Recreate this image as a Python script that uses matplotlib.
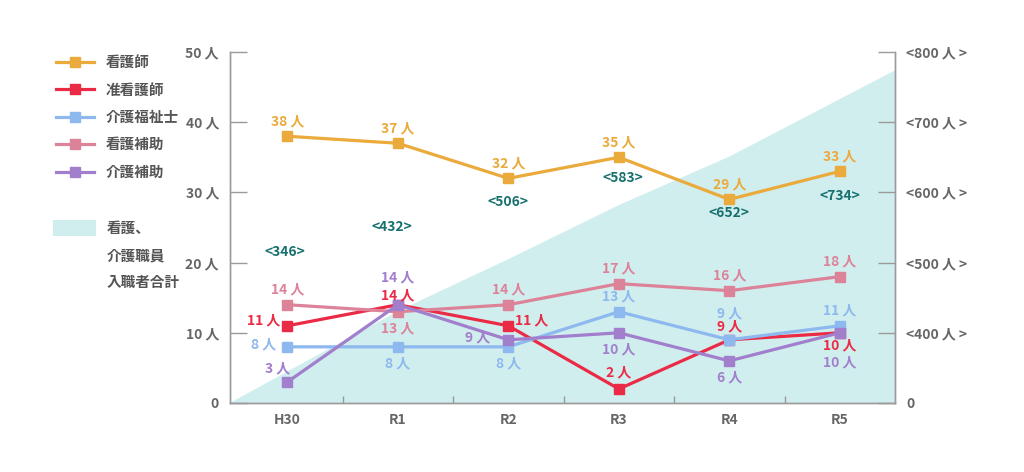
import numpy as np
import matplotlib.pyplot as plt
from matplotlib.lines import Line2D
from matplotlib.patches import Rectangle

plt.rcParams['font.family'] = ['Noto Sans CJK JP', 'DejaVu Sans']

years = ["H30", "R1", "R2", "R3", "R4", "R5"]
nurse = [38, 37, 32, 35, 29, 33]
assoc_nurse = [11, 14, 11, 2, 9, 10]
care_worker = [8, 8, 8, 13, 9, 11]
nurse_aide = [14, 13, 14, 17, 16, 18]
care_aide = [3, 14, 9, 10, 6, 10]
total_hires = [346, 432, 506, 583, 652, 734]

left_ticks = [0, 10, 20, 30, 40, 50]
left_labels = ["0", "10 人", "20 人", "30 人", "40 人", "50 人"]
right_ticks = [300, 400, 500, 600, 700, 800]
right_labels = ["0", "<400 人 >", "<500 人 >", "<600 人 >", "<700 人 >", "<800 人 >"]

series = [
    ("看護師", nurse, "#EAAA3C"),
    ("准看護師", assoc_nurse, "#EB2A45"),
    ("介護福祉士", care_worker, "#8DB9EE"),
    ("看護補助", nurse_aide, "#DC8299"),
    ("介護補助", care_aide, "#A17FCC"),
]

# label offsets (points) per series, per year
offsets = [
    [(0, 11), (0, 11), (0, 11), (0, 11), (0, 11), (0, 11)],
    [(-17, 4), (0, 7), (17, 4), (0, 12), (0, 10), (0, -9)],
    [(-17, 2), (0, -12), (0, -12), (0, 11), (0, 19), (0, 11)],
    [(0, 11), (0, -12), (0, 11), (0, 11), (0, 11), (0, 11)],
    [(-7, 10), (0, 20), (-22, 2), (0, -12), (0, -12), (0, -21)],
]
total_offsets = [(-2, 0), (-4, 0), (0, 0), (3, 0), (0, 0), (0, 0)]
total_ylevels = [21.5, 25, 28.6, 32, 27, 29.5]

fig = plt.figure(figsize=(10.24, 4.72), dpi=100)
ax = fig.add_axes([230 / 1024, 1 - 403 / 472, 665 / 1024, 351 / 472])
ax2 = ax.twinx()

x = np.arange(len(years))
xlim = (-0.52, 5.5)

# total area on right axis, extended linearly to the plot edges
xe = np.concatenate([[xlim[0]], x, [xlim[1]]])
t = np.array(total_hires, dtype=float)
t_left = t[0] + (t[0] - t[1]) * (x[0] - xlim[0])
t_right = t[-1] + (t[-1] - t[-2]) * (xlim[1] - x[-1])
te = np.concatenate([[t_left], t, [t_right]])
ax2.fill_between(xe, 300, te, color="#D1EEEF", lw=0)
ax2.set_ylim(300, 800)
ax2.set_yticks(right_ticks)
ax2.set_yticklabels(right_labels)

ax.set_zorder(ax2.zorder + 1)
ax.patch.set_visible(False)

for (name, vals, col), offs in zip(series, offsets):
    ax.plot(x, vals, color=col, lw=2.3, marker="s", ms=6.5, label=name,
            clip_on=False)
    for xi, v, (dx, dy) in zip(x, vals, offs):
        ax.annotate(f"{v} 人", (xi, v), xytext=(dx, dy), textcoords="offset points",
                    ha="center", va="center", color=col, fontsize=10,
                    fontweight="bold")

for xi, v, yl, (dx, dy) in zip(x, total_hires, total_ylevels, total_offsets):
    ax.annotate(f"<{v}>", (xi, yl), xytext=(dx, dy), textcoords="offset points",
                ha="center", va="center", color="#16706E", fontsize=10,
                fontweight="bold")

ax.set_xlim(*xlim)
ax.set_ylim(0, 50)
ax.set_yticks(left_ticks)
ax.set_yticklabels(left_labels)
ax.set_xticks(x)
ax.set_xticklabels(years)
ax.set_xticks(x[:-1] + 0.5, minor=True)

gray = "#9A9A9A"
for a in (ax, ax2):
    a.spines["top"].set_visible(False)
    for s in ("left", "right", "bottom"):
        a.spines[s].set_color(gray)
        a.spines[s].set_linewidth(1)
ax.tick_params(axis="y", direction="in", length=12, width=1, color=gray,
               pad=8, labelsize=10, labelcolor="#666666")
ax2.tick_params(axis="y", direction="in", length=12, width=1, color=gray,
                pad=8, labelsize=10, labelcolor="#666666")
ax.tick_params(axis="x", which="major", length=0, pad=7, labelsize=10,
               labelcolor="#666666")
ax.tick_params(axis="x", which="minor", direction="in", length=5, width=1,
               color=gray)
for lab in ax.get_xticklabels() + ax.get_yticklabels() + ax2.get_yticklabels():
    lab.set_fontweight("bold")

# legend
handles = [Line2D([], [], color=c, lw=2.3, marker="s", ms=6.5) for _, _, c in series]
leg = fig.legend(handles, [n for n, _, _ in series], loc="upper left",
                 bbox_to_anchor=(43 / 1024, 1 - 41 / 472), frameon=False,
                 handlelength=2.6, labelspacing=0.78, handletextpad=0.8,
                 fontsize=10.5)
for txt in leg.get_texts():
    txt.set_color("#555555")
    txt.set_fontweight("bold")

fig.add_artist(Rectangle((53 / 1024, 1 - 236 / 472), 43 / 1024, 16 / 472,
                         transform=fig.transFigure, color="#D1EEEF", lw=0))
for i, line in enumerate(["看護、", "介護職員", "入職者合計"]):
    fig.text(107 / 1024, 1 - (228 + 27 * i) / 472, line, ha="left", va="center",
             fontsize=10.5, color="#555555", fontweight="bold")

fig.savefig("out.png", dpi=100)
